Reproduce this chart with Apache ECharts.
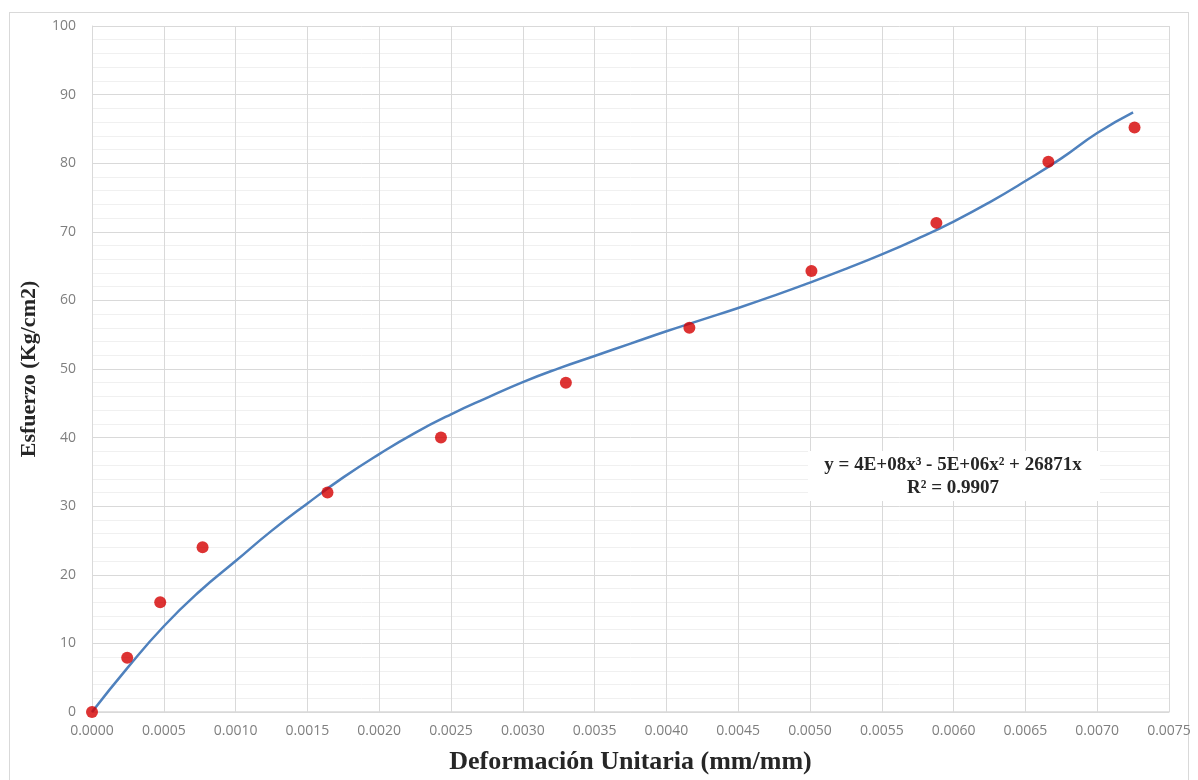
<!DOCTYPE html>
<html>
<head>
<meta charset="utf-8">
<script src="https://cdn.jsdelivr.net/npm/echarts@6/dist/echarts.min.js"></script>
<style>
html,body{margin:0;padding:0;background:#fff;}
#frame{position:absolute;left:9px;top:12px;width:1180px;height:770px;border:1px solid #d9d9d9;box-sizing:border-box;}
#chart{position:absolute;left:0;top:0;width:1198px;height:780px;}
</style>
</head>
<body>
<div id="frame"></div>
<div id="chart"></div>
<script>
// Measured data points (strain, stress)
const strain = [0, 0.000245, 0.000475, 0.00077, 0.00164, 0.00243, 0.0033, 0.00416, 0.00501, 0.00588, 0.00666, 0.00726];
const stress = [0, 7.9, 16.0, 24.0, 32.0, 40.0, 48.0, 56.0, 64.3, 71.3, 80.2, 85.2];

// Trendline
const trendX = [0, 0.00025, 0.0005, 0.00075, 0.001, 0.00125, 0.0015, 0.00175, 0.002, 0.00225, 0.0025, 0.00275, 0.003, 0.00325, 0.0035, 0.00375, 0.004, 0.00425, 0.0045, 0.00475, 0.005, 0.00525, 0.0055, 0.00575, 0.006, 0.00625, 0.0065, 0.00675, 0.007, 0.00725];
const trendY = [0, 6.5, 12.5, 17.6, 22.0, 26.4, 30.4, 34.2, 37.6, 40.7, 43.4, 45.8, 48.1, 50.1, 51.9, 53.7, 55.5, 57.2, 58.9, 60.7, 62.6, 64.6, 66.7, 69.0, 71.5, 74.3, 77.4, 80.7, 84.4, 87.4];

const xTitle = 'Deformación Unitaria (mm/mm)';
const yTitle = 'Esfuerzo (Kg/cm2)';
const eqLine1 = 'y = 4E+08x³ - 5E+06x² + 26871x';
const eqLine2 = 'R² = 0.9907';

const chart = echarts.init(document.getElementById('chart'));
const serif = '"Liberation Serif", "DejaVu Serif", serif';
const sans = '"Open Sans", "Liberation Sans", sans-serif';

chart.setOption({
  animation: false,
  backgroundColor: 'transparent',
  grid: {left: 92, right: 29, top: 26, bottom: 67},
  xAxis: {
    type: 'value', min: 0, max: 0.0075, interval: 0.0005,
    name: xTitle, nameLocation: 'middle', nameGap: 37,
    nameTextStyle: {fontFamily: serif, fontWeight: 'bold', fontSize: 26, color: '#262626'},
    axisLine: {show: true, lineStyle: {color: '#d9d9d9', width: 1.5}},
    axisTick: {show: false},
    axisLabel: {color: '#7f7f7f', fontSize: 14, fontFamily: sans, margin: 12,
      formatter: v => v.toFixed(4)},
    splitLine: {show: true, lineStyle: {color: '#d9d9d9', width: 1}}
  },
  yAxis: {
    type: 'value', min: 0, max: 100, interval: 10,
    name: yTitle, nameLocation: 'middle', nameGap: 52,
    nameTextStyle: {fontFamily: serif, fontWeight: 'bold', fontSize: 22, color: '#262626'},
    axisLine: {show: true, lineStyle: {color: '#d9d9d9', width: 1}},
    axisTick: {show: false},
    axisLabel: {color: '#7f7f7f', fontSize: 14, fontFamily: sans, margin: 16},
    splitLine: {show: true, lineStyle: {color: '#d9d9d9', width: 1}},
    minorTick: {show: false, splitNumber: 5},
    minorSplitLine: {show: true, lineStyle: {color: '#f0f0f0', width: 1}}
  },
  series: [
    {
      type: 'line',
      data: trendX.map((x, i) => [x, trendY[i]]),
      smooth: true,
      showSymbol: false,
      lineStyle: {color: '#4f81bd', width: 2.5},
      z: 2
    },
    {
      type: 'scatter',
      data: strain.map((x, i) => [x, stress[i]]),
      symbolSize: 12,
      itemStyle: {color: '#d40000'},
      z: 3
    }
  ],
  graphic: [
    {type: 'rect', shape: {x: 808, y: 451, width: 292, height: 50}, style: {fill: '#ffffff'}, z: 10},
    {type: 'text', z: 11, style: {x: 953, y: 465, text: eqLine1, font: 'bold 19px ' + serif, fill: '#262626', align: 'center', verticalAlign: 'middle'}},
    {type: 'text', z: 11, style: {x: 953, y: 488, text: eqLine2, font: 'bold 19px ' + serif, fill: '#262626', align: 'center', verticalAlign: 'middle'}}
  ]
});
</script>
</body>
</html>
